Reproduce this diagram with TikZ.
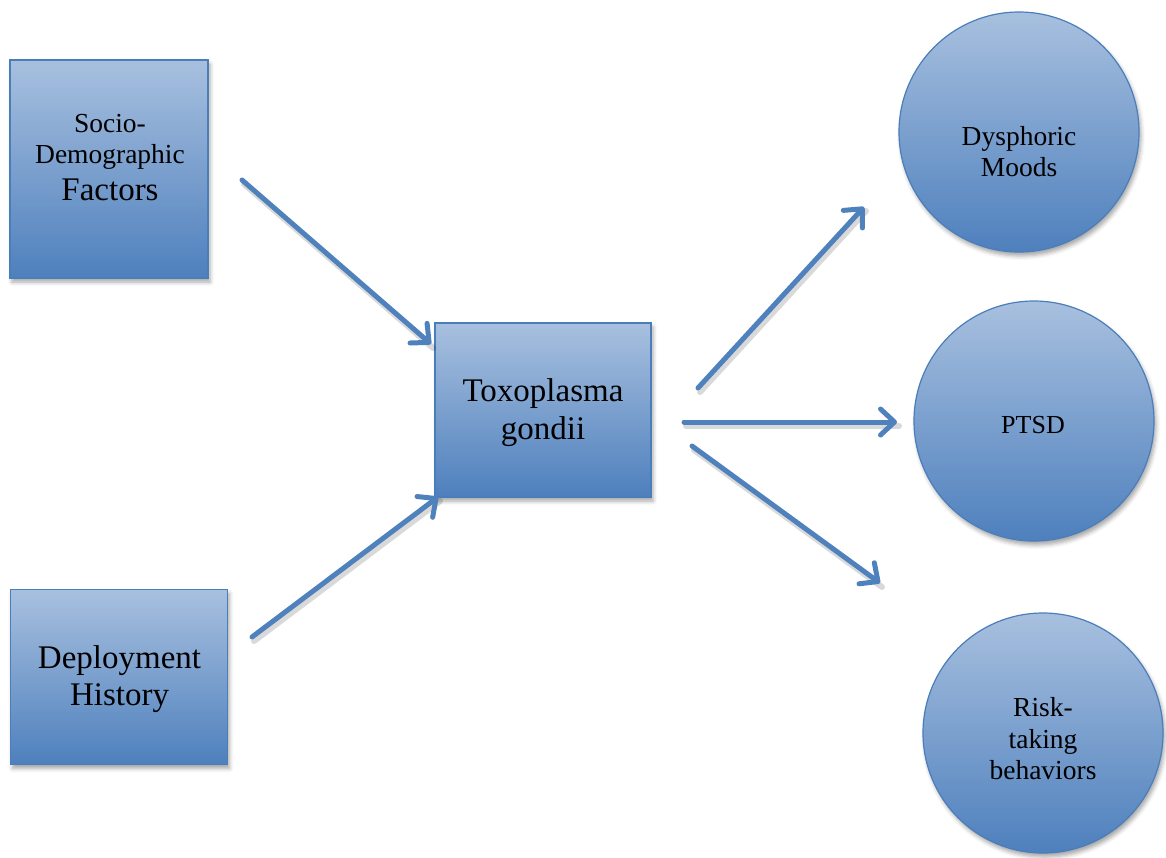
\documentclass[tikz,border=0pt]{standalone}
\usepackage{fontspec}
\setmainfont{Liberation Serif}
\usetikzlibrary{arrows.meta,shadows.blur}
\definecolor{topblue}{RGB}{168,192,223}
\definecolor{botblue}{RGB}{78,128,189}
\definecolor{edgeblue}{RGB}{74,126,187}
\definecolor{arrowblue}{RGB}{79,129,189}
\tikzset{
  boxshape/.style={rectangle,draw=edgeblue,line width=1.2pt,top color=topblue,bottom color=botblue,
    inner sep=0pt,blur shadow={shadow xshift=2pt,shadow yshift=-4pt,shadow blur radius=4pt,shadow opacity=35}},
  circshape/.style={circle,draw=edgeblue,line width=1.2pt,top color=topblue,bottom color=botblue,
    inner sep=0pt,minimum size=240pt,blur shadow={shadow xshift=2pt,shadow yshift=-4pt,shadow blur radius=4pt,shadow opacity=35}},
  bigtxt/.style={anchor=base,inner sep=0pt,font=\fontsize{33}{37}\selectfont},
  smalltxt/.style={anchor=base,inner sep=0pt,font=\fontsize{27.5}{31}\selectfont},
  ptsdtxt/.style={anchor=base,inner sep=0pt,font=\fontsize{26}{30}\selectfont},
  flowarrow/.style={draw=arrowblue,line width=5pt,line cap=round,-{Straight Barb[length=14pt,width=26pt,round]}},
  arrowshadow/.style={draw=black,opacity=0.15,line width=6pt,line cap=round}
}
\begin{document}
\begin{tikzpicture}[x=1pt,y=-1pt]
\useasboundingbox (0,0) rectangle (1166,857);
% boxes
\node[boxshape,minimum width=198pt,minimum height=218pt] (socio) at (109,169) {};
\node[boxshape,minimum width=217pt,minimum height=175pt] (deploy) at (119,677) {};
\node[boxshape,minimum width=216pt,minimum height=174pt] (toxo) at (543,410) {};
% circles
\node[circshape] (dys) at (1019,132) {};
\node[circshape] (ptsd) at (1034,421) {};
\node[circshape] (risk) at (1043,733) {};
% texts
\node[smalltxt] (socioA) at (110,132) {Socio-};
\node[smalltxt] (socioB) at (110,163) {Demographic};
\node[bigtxt] (socioC) at (110,200) {Factors};
\node[bigtxt] (toxoA) at (543,401) {Toxoplasma};
\node[bigtxt] (toxoB) at (543,439) {gondii};
\node[bigtxt] (deployA) at (119.5,668) {Deployment};
\node[bigtxt] (deployB) at (119.5,705) {History};
\node[smalltxt] (dysA) at (1019,145) {Dysphoric};
\node[smalltxt] (dysB) at (1019,176) {Moods};
\node[ptsdtxt] (ptsdA) at (1033,433) {PTSD};
\node[smalltxt] (riskA) at (1043,716) {Risk-};
\node[smalltxt] (riskB) at (1043,748) {taking};
\node[smalltxt] (riskC) at (1043,779) {behaviors};
% arrow end points
\coordinate (s1) at (242,180);
\coordinate (e1) at (431,344);
\coordinate (s2) at (252,637);
\coordinate (e2) at (438,497);
\coordinate (s3) at (698,388);
\coordinate (e3) at (864,207);
\coordinate (s4) at (684,422);
\coordinate (e4) at (897,422);
\coordinate (s5) at (692,446);
\coordinate (e5) at (880,583);
% arrow shadows
\foreach \a/\b in {s1/e1,s2/e2,s3/e3,s4/e4,s5/e5}
  \draw[arrowshadow] ([shift={(2,4)}]\a) -- ([shift={(2,4)}]\b);
% arrows
\draw[flowarrow] (s1) -- (e1);
\draw[flowarrow] (s2) -- (e2);
\draw[flowarrow] (s3) -- (e3);
\draw[flowarrow] (s4) -- (e4);
\draw[flowarrow] (s5) -- (e5);
\end{tikzpicture}
\end{document}
